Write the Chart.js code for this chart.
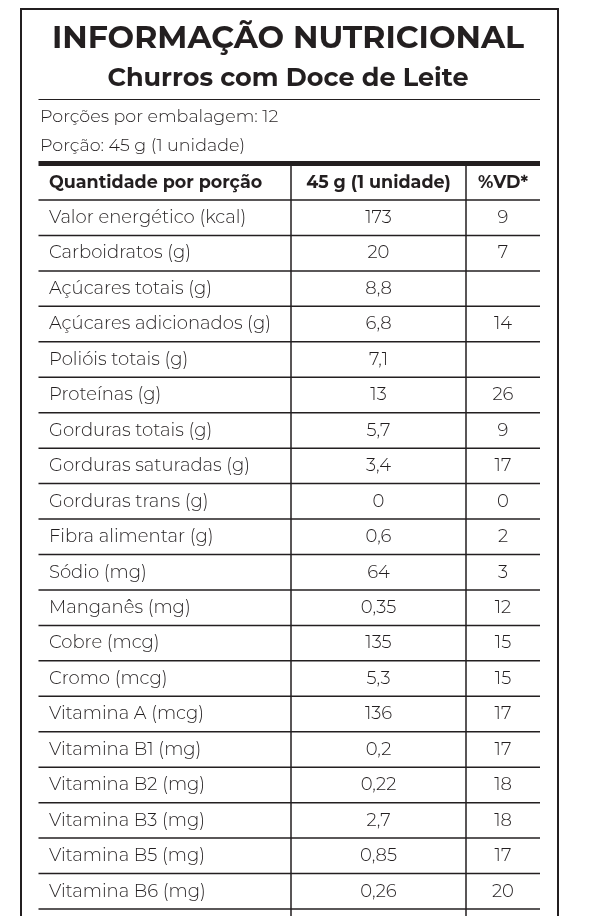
<!DOCTYPE html>
<html><head><meta charset="utf-8">
<script src="https://cdn.jsdelivr.net/npm/chart.js@4"></script>
<style>html,body{margin:0;padding:0;background:#fff}#w{width:600px;height:916px}</style>
</head><body><div id="w"><canvas id="c"></canvas></div>
<script>
const title = "INFORMAÇÃO NUTRICIONAL";
const subtitle = "Churros com Doce de Leite";
const servingsInfo = ["Porções por embalagem: 12", "Porção: 45 g (1 unidade)"];
const headers = ["Quantidade por porção", "45 g (1 unidade)", "%VD*"];
const nutrients = ["Valor energético (kcal)","Carboidratos (g)","Açúcares totais (g)","Açúcares adicionados (g)","Polióis totais (g)","Proteínas (g)","Gorduras totais (g)","Gorduras saturadas (g)","Gorduras trans (g)","Fibra alimentar (g)","Sódio (mg)","Manganês (mg)","Cobre (mcg)","Cromo (mcg)","Vitamina A (mcg)","Vitamina B1 (mg)","Vitamina B2 (mg)","Vitamina B3 (mg)","Vitamina B5 (mg)","Vitamina B6 (mg)"];
const amounts = ["173","20","8,8","6,8","7,1","13","5,7","3,4","0","0,6","64","0,35","135","5,3","136","0,2","0,22","2,7","0,85","0,26"];
const vd = ["9","7","","14","","26","9","17","0","2","3","12","15","15","17","17","18","18","17","20"];

const INK = "#231f20";
const FONT = "Montserrat, 'Noto Sans', sans-serif";
const tablePlugin = {
  id: 'tbl',
  afterDraw(chart) {
    const ctx = chart.ctx, a = chart.chartArea, y = chart.scales.y;
    const c1 = 291, c2 = 466;
    ctx.save();
    ctx.fillStyle = INK; ctx.strokeStyle = INK;
    ctx.lineWidth = 2; ctx.strokeRect(21, 9, 537, 920);
    ctx.textBaseline = 'middle'; ctx.textAlign = 'center';
    ctx.font = "bold 31.5px " + FONT; ctx.fillText(title, 288, 39);
    ctx.font = "bold 25.5px " + FONT; ctx.fillText(subtitle, 288, 78);
    ctx.lineWidth = 1.2; ctx.beginPath(); ctx.moveTo(a.left, 99.5); ctx.lineTo(a.right, 99.5); ctx.stroke();
    ctx.textAlign = 'left'; ctx.font = "300 17.5px " + FONT;
    ctx.fillText(servingsInfo[0], 40, 117);
    ctx.fillText(servingsInfo[1], 40, 146);
    ctx.fillRect(a.left, 161, a.right - a.left, 5);
    ctx.font = "bold 17.5px " + FONT;
    ctx.fillText(headers[0], 49, 183);
    ctx.textAlign = 'center';
    ctx.fillText(headers[1], (c1 + c2) / 2, 183);
    ctx.fillText(headers[2], (c2 + a.right) / 2, 183);
    ctx.lineWidth = 1.5;
    ctx.beginPath();
    ctx.moveTo(c1, 166); ctx.lineTo(c1, 916);
    ctx.moveTo(c2, 166); ctx.lineTo(c2, 916);
    ctx.moveTo(a.left, 200); ctx.lineTo(a.right, 200);
    ctx.stroke();
    ctx.font = "300 18px " + FONT;
    nutrients.forEach((n, i) => {
      const cy = y.getPixelForValue(i);
      const half = (y.getPixelForValue(1) - y.getPixelForValue(0)) / 2;
      ctx.beginPath(); ctx.moveTo(a.left, cy + half); ctx.lineTo(a.right, cy + half); ctx.stroke();
      ctx.textAlign = 'left'; ctx.fillText(n, 49, cy);
      ctx.textAlign = 'center';
      ctx.fillText(amounts[i], (c1 + c2) / 2, cy);
      ctx.fillText(vd[i], (c2 + a.right) / 2, cy);
    });
    ctx.restore();
  }
};
new Chart(document.getElementById('c'), {
  type: 'bar',
  data: { labels: nutrients, datasets: [{ data: nutrients.map(() => 0), backgroundColor: 'rgba(0,0,0,0)' }] },
  options: {
    indexAxis: 'y', responsive: true, maintainAspectRatio: false, animation: false, devicePixelRatio: 1,
    layout: { padding: { top: 200, bottom: 7, left: 38.5, right: 60 } },
    plugins: { legend: { display: false }, tooltip: { enabled: false } },
    scales: { y: { display: false, offset: true }, x: { display: false, min: 0, max: 1 } }
  },
  plugins: [tablePlugin]
});
</script></body></html>
